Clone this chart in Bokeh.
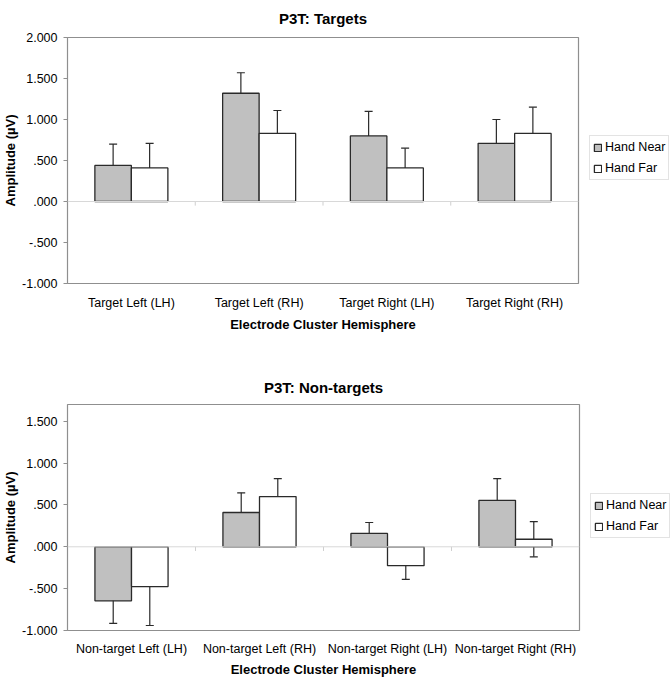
from bokeh.plotting import figure
from bokeh.models import (Range1d, FixedTicker, Whisker, TeeHead, ColumnDataSource,
                          Legend, LegendItem, Span)
from bokeh.layouts import column
from bokeh.embed import file_html
from bokeh.resources import INLINE

# ---------------- data ----------------
series_names = ["Hand Near", "Hand Far"]

targets_title = "P3T: Targets"
targets_cats = ["Target Left (LH)", "Target Left (RH)", "Target Right (LH)", "Target Right (RH)"]
targets_near = [0.44, 1.32, 0.80, 0.71]
targets_near_err = [0.26, 0.25, 0.30, 0.29]
targets_far = [0.41, 0.83, 0.41, 0.83]
targets_far_err = [0.30, 0.28, 0.24, 0.32]
targets_yticks = [-1.0, -0.5, 0.0, 0.5, 1.0, 1.5, 2.0]
targets_ylabels = ["-1.000", "-.500", ".000", ".500", "1.000", "1.500", "2.000"]

nontargets_title = "P3T: Non-targets"
nontargets_cats = ["Non-target Left (LH)", "Non-target Left (RH)", "Non-target Right (LH)", "Non-target Right (RH)"]
nontargets_near = [-0.645, 0.41, 0.16, 0.555]
nontargets_near_err = [0.27, 0.235, 0.13, 0.26]
nontargets_far = [-0.475, 0.60, -0.225, 0.09]
nontargets_far_err = [0.465, 0.215, 0.165, 0.21]
nontargets_yticks = [-1.0, -0.5, 0.0, 0.5, 1.0, 1.5]
nontargets_ylabels = ["-1.000", "-.500", ".000", ".500", "1.000", "1.500"]

x_title = "Electrode Cluster Hemisphere"
y_title = "Amplitude (\u00b5V)"

FONT = "Liberation Sans"
BAR_W = 1 / 3.5
FILLS = ["#c0c0c0", "#ffffff"]
DARK = "#2a2a2a"
FRAME = "#8f8f8f"


def make_chart(title, cats, near, near_err, far, far_err, yticks, ylabels, y_end,
               fw, fh, b_top, b_bottom, b_left, b_right, title_standoff,
               xlab_standoff, xtitle_standoff, legend_loc):
    n = len(cats)
    p = figure(frame_width=fw, frame_height=fh, x_range=Range1d(0, n), y_range=Range1d(-1.0, y_end),
               output_backend="svg", toolbar_location=None,
               min_border_left=b_left, min_border_right=b_right,
               min_border_top=b_top, min_border_bottom=b_bottom)
    p.background_fill_color = "white"
    p.border_fill_color = "white"
    p.outline_line_color = FRAME
    p.outline_line_width = 1.2
    p.xgrid.visible = False
    p.ygrid.visible = False

    p.title.text = title
    p.title.align = "center"
    p.title.vertical_align = "top"
    p.title.offset = 6
    p.title.text_font = FONT
    p.title.text_font_size = "15px"
    p.title.text_font_style = "bold"
    p.title.text_color = "black"
    p.title.standoff = title_standoff

    # zero line and category separators
    p.add_layout(Span(location=0, dimension="width", line_color="#d8d8d8", line_width=1))
    sep = [i for i in range(1, n)]
    p.segment(x0=sep, x1=sep, y0=[0] * len(sep), y1=[-0.05] * len(sep),
              line_color="#cfcfcf", line_width=1)

    renderers = []
    for k, (vals, errs) in enumerate([(near, near_err), (far, far_err)]):
        off = (k - 0.5) * BAR_W
        xs = [i + 0.5 + off for i in range(n)]
        src = ColumnDataSource(dict(x=xs, top=vals,
                                    upper=[v + e for v, e in zip(vals, errs)],
                                    lower=[v - e for v, e in zip(vals, errs)]))
        r = p.vbar(x="x", top="top", bottom=0, width=BAR_W, source=src,
                   fill_color=FILLS[k], line_color=DARK, line_width=1.3)
        renderers.append(r)
        w = Whisker(source=src, base="x", upper="upper", lower="lower",
                    line_color=DARK, line_width=1.2,
                    upper_head=TeeHead(size=8, line_color=DARK, line_width=1.2),
                    lower_head=TeeHead(size=8, line_color=DARK, line_width=1.2))
        p.add_layout(w)

    # x axis
    xa = p.xaxis[0]
    xa.ticker = FixedTicker(ticks=[i + 0.5 for i in range(n)])
    xa.major_label_overrides = {i + 0.5: c for i, c in enumerate(cats)}
    xa.major_tick_line_color = None
    xa.minor_tick_line_color = None
    xa.axis_line_color = None
    xa.major_label_standoff = xlab_standoff
    xa.major_label_text_font = FONT
    xa.major_label_text_font_size = "12.5px"
    xa.major_label_text_color = "black"
    xa.axis_label = x_title
    xa.axis_label_text_font = FONT
    xa.axis_label_text_font_size = "13px"
    xa.axis_label_text_font_style = "bold"
    xa.axis_label_text_color = "black"
    xa.axis_label_standoff = xtitle_standoff

    # y axis
    ya = p.yaxis[0]
    ya.ticker = FixedTicker(ticks=yticks)
    ya.major_label_overrides = {t: l for t, l in zip(yticks, ylabels)}
    ya.axis_line_color = None
    ya.major_tick_line_color = FRAME
    ya.major_tick_out = 4
    ya.major_tick_in = 0
    ya.minor_tick_line_color = None
    ya.major_label_standoff = 6
    ya.major_label_text_font = FONT
    ya.major_label_text_font_size = "12.5px"
    ya.major_label_text_color = "black"
    ya.axis_label = y_title
    ya.axis_label_text_font = FONT
    ya.axis_label_text_font_size = "13px"
    ya.axis_label_text_font_style = "bold"
    ya.axis_label_text_color = "black"
    ya.axis_label_standoff = 1

    legend = Legend(items=[LegendItem(label=s, renderers=[r]) for s, r in zip(series_names, renderers)],
                    location=legend_loc, orientation="vertical",
                    label_text_font=FONT, label_text_font_size="12.5px", label_text_color="black",
                    glyph_width=9, glyph_height=9, label_standoff=3, label_height=16,
                    spacing=5, padding=3, margin=0,
                    border_line_color="#c8c8c8", border_line_width=1,
                    background_fill_color="white", background_fill_alpha=1.0)
    p.add_layout(legend, "right")
    return p


p1 = make_chart(targets_title, targets_cats, targets_near, targets_near_err, targets_far,
                targets_far_err, targets_yticks, targets_ylabels, 2.0,
                fw=511, fh=246, b_top=0, b_bottom=88, b_left=59, b_right=84,
                title_standoff=18, xlab_standoff=6, xtitle_standoff=4, legend_loc=(11, 103))
p2 = make_chart(nontargets_title, nontargets_cats, nontargets_near, nontargets_near_err,
                nontargets_far, nontargets_far_err, nontargets_yticks, nontargets_ylabels, 1.7,
                fw=512, fh=226, b_top=0, b_bottom=43, b_left=60, b_right=82,
                title_standoff=14, xlab_standoff=5, xtitle_standoff=3, legend_loc=(11, 92))

layout = column(p1, p2, spacing=0)
open("out.html", "w").write(file_html(layout, INLINE))
